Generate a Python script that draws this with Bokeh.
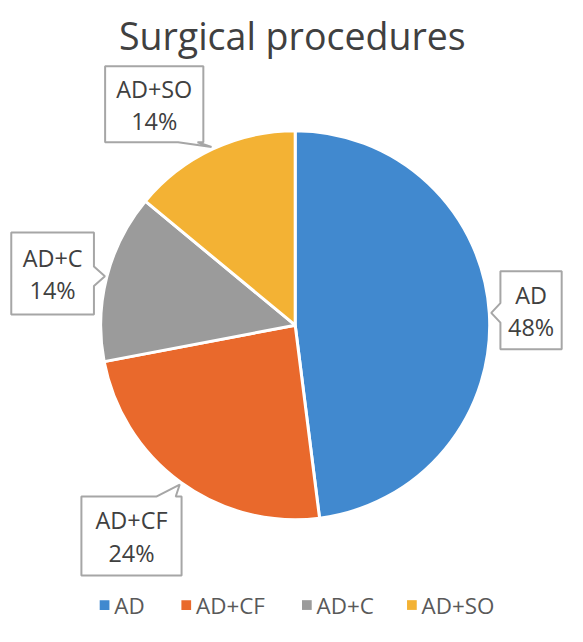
import math
from bokeh.plotting import figure
from bokeh.models import Range1d
from bokeh.core.properties import value
from bokeh.embed import file_html
from bokeh.resources import INLINE

# ---- data ----
categories = ["AD", "AD+CF", "AD+C", "AD+SO"]
percents = [48, 24, 14, 14]
colors = ["#4189cf", "#e9692c", "#9b9b9b", "#f3b234"]
title_text = "Surgical procedures"

# ---- layout (reference pixel space, y down) ----
W, H = 567, 626
REF_W, REF_H = 583, 642
S = H / REF_H
CX, CY, R = 303, 333, 200
label_dist = [243, 274, 255, 269]
label_turn = [0.0, 1.9, -2.4, -7.4]
box_w = [63, 103, 85, 101]
box_h = [80, 81, 84, 78]
label_side = ["left", "top", "right", "bottom"]
legend_sq_x = [107, 191, 315, 423]
legend_y = 620
FONT = "Open Sans"


def Y(py):
    return REF_H - py


def fs(px):
    return f"{px * S:.1f}px"


p = figure(width=W, height=H, output_backend="svg", toolbar_location=None,
           x_range=Range1d(0, REF_W), y_range=Range1d(0, REF_H),
           min_border=0)
p.axis.visible = False
p.grid.visible = False
p.outline_line_color = None
p.background_fill_color = "white"

total = float(sum(percents))
fracs = [v / total for v in percents]
cum = [0.0]
for f in fracs:
    cum.append(cum[-1] + f)

starts = [math.pi / 2 - 2 * math.pi * cum[i] for i in range(len(fracs))]
ends = [math.pi / 2 - 2 * math.pi * cum[i + 1] for i in range(len(fracs))]

p.wedge(x=[CX] * len(fracs), y=[Y(CY)] * len(fracs), radius=R,
        start_angle=starts, end_angle=ends, direction="clock",
        fill_color=colors, line_color="white", line_width=3)

# ---- callouts ----
for i, cat in enumerate(categories):
    mid = 360.0 * (cum[i] + cum[i + 1]) / 2.0  # degrees clockwise from top
    a = math.radians(mid + label_turn[i])
    bx = CX + label_dist[i] * math.sin(a)
    by = CY - label_dist[i] * math.cos(a)
    am = math.radians(mid)
    tx = CX + (R + 2) * math.sin(am)
    ty = CY - (R + 2) * math.cos(am)
    w, h = box_w[i], box_h[i]
    L, Rr, T, B = bx - w / 2, bx + w / 2, by - h / 2, by + h / 2
    side = label_side[i]
    half, marg = 10, 6
    if side in ("left", "right"):
        c = min(max(ty, T + marg + half), B - marg - half)
    else:
        c = min(max(tx, L + marg + half), Rr - marg - half)
    b0, b1 = c - half, c + half
    pts = [(L, T)]
    if side == "top":
        pts += [(b0, T), (tx, ty), (b1, T)]
    pts.append((Rr, T))
    if side == "right":
        pts += [(Rr, b0), (tx, ty), (Rr, b1)]
    pts.append((Rr, B))
    if side == "bottom":
        pts += [(b1, B), (tx, ty), (b0, B)]
    pts.append((L, B))
    if side == "left":
        pts += [(L, b1), (tx, ty), (L, b0)]
    xs = [q[0] for q in pts]
    ys = [Y(q[1]) for q in pts]
    p.patch(xs, ys, fill_color="white", line_color="#a6a6a6", line_width=2)
    p.text(x=[bx], y=[Y(by - 16)], text=[cat], text_align="center",
           text_baseline="middle", text_font=value(FONT),
           text_font_size=fs(24), text_color="#404040")
    p.text(x=[bx], y=[Y(by + 17)], text=[f"{round(percents[i] / total * 100)}%"],
           text_align="center", text_baseline="middle", text_font=value(FONT),
           text_font_size=fs(24), text_color="#404040")

# ---- title ----
p.text(x=[300], y=[Y(36)], text=[title_text], text_align="center",
       text_baseline="middle", text_font=value(FONT), text_font_size=fs(38.5),
       text_color="#404040")

# ---- legend ----
p.rect(x=legend_sq_x, y=[Y(legend_y)] * 4, width=10, height=10,
       fill_color=colors, line_color=None)
p.text(x=[v + 10 for v in legend_sq_x], y=[Y(legend_y)] * 4, text=categories,
       text_align="left", text_baseline="middle", text_font=value(FONT),
       text_font_size=fs(23), text_color="#595959")

open("out.html", "w").write(file_html(p, INLINE))
